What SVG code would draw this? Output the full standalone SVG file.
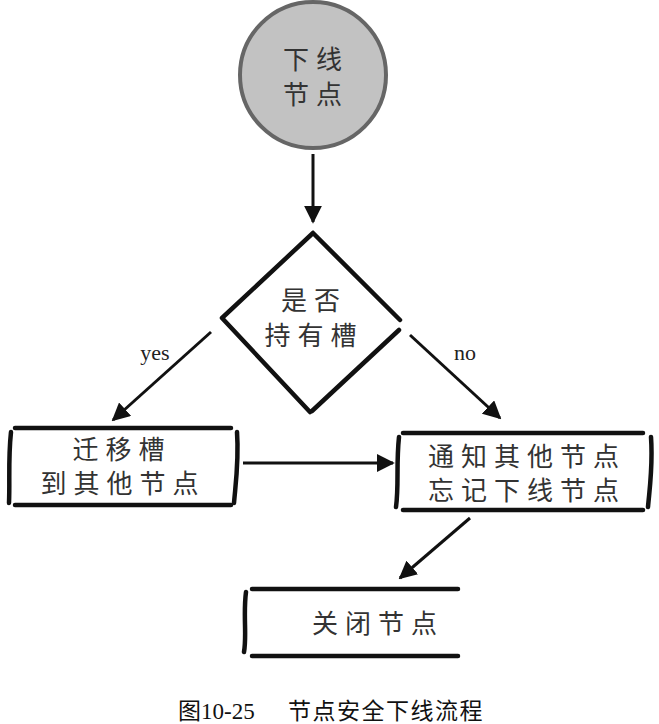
<svg xmlns="http://www.w3.org/2000/svg" width="659" height="724" viewBox="0 0 659 724">
<style>
.t{font-family:"Noto Sans CJK SC","Noto Sans",sans-serif;font-size:26px;fill:#333;text-anchor:middle;letter-spacing:7px}
.e{font-family:"Liberation Serif",serif;font-size:22px;fill:#222;text-anchor:middle}
.cap{font-family:"Liberation Serif","Noto Sans CJK SC",serif;font-size:23px;fill:#111}
.b{fill:none;stroke:#111;stroke-width:4.5;stroke-linecap:round}
.c{fill:none;stroke:#111;stroke-width:3}
</style>
<defs>
<marker id="a" viewBox="0 0 10 10" refX="9" refY="5" markerWidth="6" markerHeight="6" orient="auto">
<path d="M0,0 L10,5 L0,10 z" fill="#111"/>
</marker>
</defs>
<g id="start">
<circle cx="313" cy="75" r="73" fill="#c2c2c2" stroke="#666" stroke-width="4"/>
<text class="t" x="316" y="69">下线</text>
<text class="t" x="316" y="104">节点</text>
</g>
<g id="decision">
<path class="b" d="M313,233 L222,318 M222,318 L310,412 M313,233 L400,320 M399,330 L312,411"/>
<text class="t" x="314" y="310">是否</text>
<text class="t" x="314" y="345">持有槽</text>
</g>
<g id="migrate">
<path class="b" d="M15,428 L231,428 M15,505 L231,505 M11,432 C8,460 10,480 9,503 M237,432 C239,460 236,480 234,503"/>
<text class="t" x="122" y="459">迁移槽</text>
<text class="t" x="123" y="493">到其他节点</text>
</g>
<g id="notify">
<path class="b" d="M403,433 L643,433 M403,510 L643,510 M399,437 C396,465 399,485 396,507 M651,437 C653,465 650,485 648,507"/>
<text class="t" x="527" y="466">通知其他节点</text>
<text class="t" x="527" y="500">忘记下线节点</text>
</g>
<g id="shutdown">
<path class="b" d="M252,589 L458,589 M252,656 L458,656 M246,592 C243,615 247,635 244,652"/>
<text class="t" x="378" y="633">关闭节点</text>
</g>
<g id="connectors">
<line class="c" x1="313" y1="154" x2="313" y2="222" marker-end="url(#a)"/>
<line class="c" x1="211" y1="332" x2="113" y2="420" marker-end="url(#a)"/>
<line class="c" x1="410" y1="335" x2="500" y2="418" marker-end="url(#a)"/>
<line class="c" x1="243" y1="463" x2="393" y2="463" marker-end="url(#a)"/>
<line class="c" x1="470" y1="518" x2="400" y2="578" marker-end="url(#a)"/>
<text class="e" x="155" y="360">yes</text>
<text class="e" x="465" y="360">no</text>
</g>
<text class="cap" x="178" y="719">图10-25</text>
<text class="cap" x="288" y="719" letter-spacing="1.5">节点安全下线流程</text>
</svg>
